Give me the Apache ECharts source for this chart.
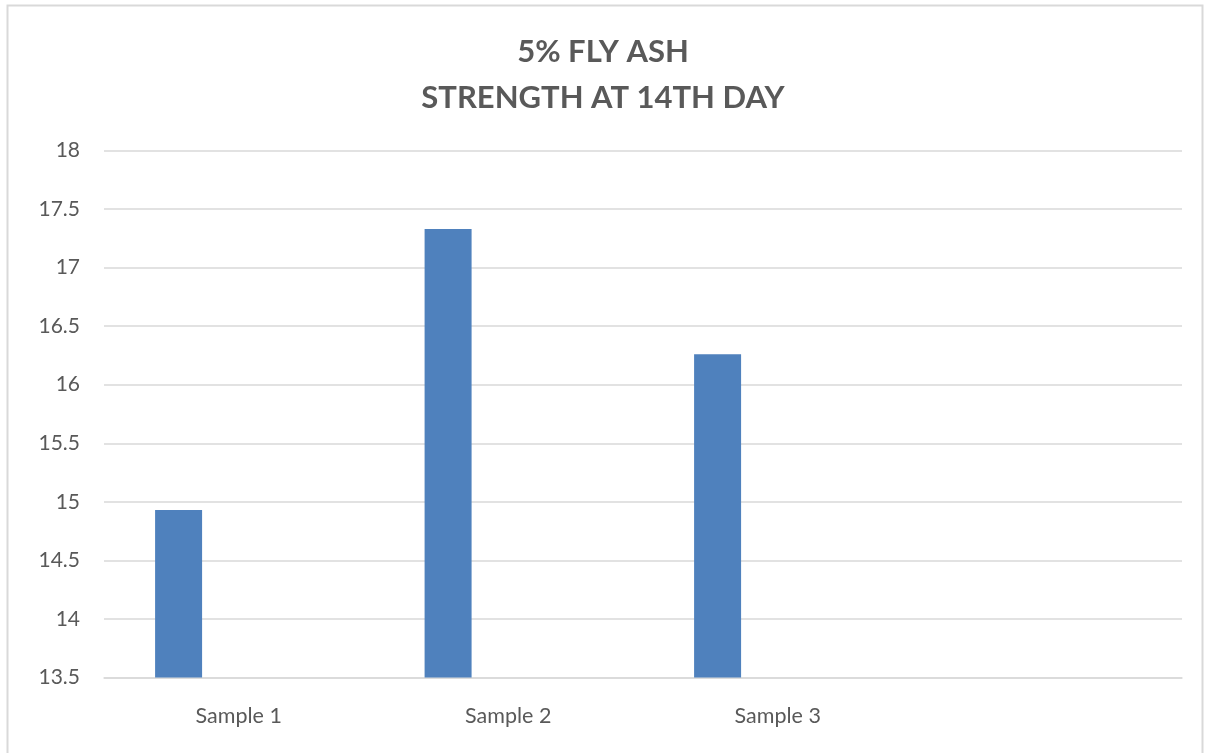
<!DOCTYPE html>
<html>
<head>
<meta charset="utf-8">
<script src="https://cdn.jsdelivr.net/npm/echarts@6/dist/echarts.min.js"></script>
<style>
  html, body { margin: 0; padding: 0; background: #fff; }
  #chart { width: 1206px; height: 753px; }
</style>
</head>
<body>
<div id="chart"></div>
<script>
// Compressive strength of 5% fly ash mix at day 14
const categories = ['Sample 1', 'Sample 2', 'Sample 3', ''];
const strength = [14.93, 17.33, 16.26, null];
const secondSeries = [null, null, null, null];
const titleLines = ['5% FLY ASH', 'STRENGTH AT 14TH DAY'];
const yMin = 13.5, yMax = 18, yStep = 0.5;

const chart = echarts.init(document.getElementById('chart'));
const font = 'Lato, "Open Sans", sans-serif';

chart.setOption({
  animation: false,
  backgroundColor: '#ffffff',
  title: {
    text: titleLines.join('\n'),
    left: 'center',
    top: 24,
    textStyle: {
      fontFamily: font,
      fontSize: 31,
      fontWeight: 'bold',
      color: '#595959',
      lineHeight: 46
    }
  },
  graphic: [{
    type: 'rect',
    shape: { x: 7.5, y: 5.5, width: 1195, height: 760 },
    style: { fill: 'none', stroke: '#d9d9d9', lineWidth: 2 },
    silent: true
  }],
  grid: { left: 104, right: 24, top: 150.5, bottom: 75.5 },
  xAxis: {
    type: 'category',
    data: categories,
    axisLine: { show: true, lineStyle: { color: '#d9d9d9', width: 1.5 } },
    axisTick: { show: false },
    axisLabel: { fontFamily: font, fontSize: 21.5, color: '#595959', margin: 28 }
  },
  yAxis: {
    type: 'value',
    min: yMin,
    max: yMax,
    interval: yStep,
    axisLine: { show: false },
    axisTick: { show: false },
    splitLine: { lineStyle: { color: '#d9d9d9', width: 1.5 } },
    axisLabel: { fontFamily: font, fontSize: 21, color: '#595959', margin: 24 }
  },
  series: [
    {
      type: 'bar',
      data: strength,
      barWidth: 47,
      barGap: '156%',
      itemStyle: { color: '#4f81bd' }
    },
    {
      type: 'bar',
      data: secondSeries,
      barWidth: 47,
      itemStyle: { color: '#c0504d' }
    }
  ]
});
</script>
</body>
</html>
